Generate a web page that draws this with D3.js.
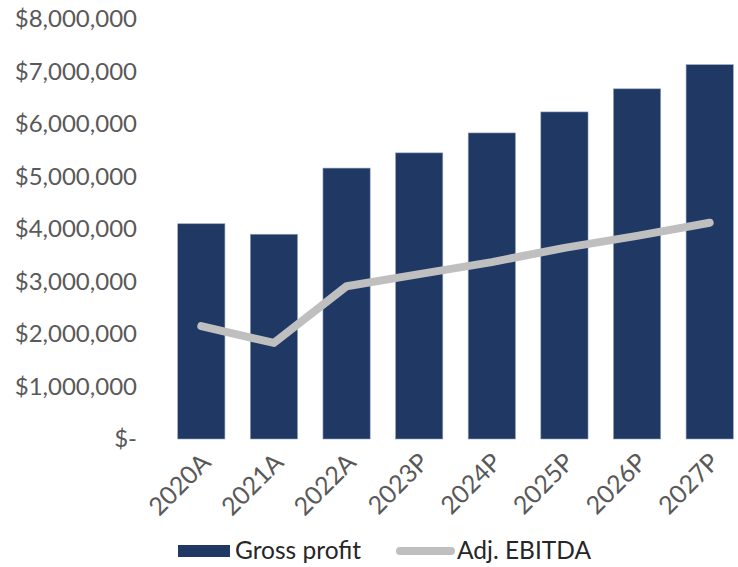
<!doctype html>
<html>
<head>
<meta charset="utf-8">
<script src="https://d3js.org/d3.v7.min.js"></script>
<style>
  body { margin: 0; background: #fff; }
  text { font-family: Lato, "Open Sans", sans-serif; }
</style>
</head>
<body>
<svg width="738" height="567"></svg>
<script>
// values
var years = ["2020A", "2021A", "2022A", "2023P", "2024P", "2025P", "2026P", "2027P"];
var grossProfit = [4100000, 3900000, 5160000, 5450000, 5830000, 6230000, 6670000, 7130000];
var adjEbitda = [2150000, 1830000, 2910000, 3140000, 3370000, 3640000, 3870000, 4120000];
var yTicks = [0, 1000000, 2000000, 3000000, 4000000, 5000000, 6000000, 7000000, 8000000];

var svg = d3.select("svg");

var x = d3.scaleBand()
    .domain(years)
    .range([165, 746])
    .paddingInner(0.35)
    .paddingOuter(0.175);

var y = d3.scaleLinear()
    .domain([0, 8000000])
    .range([439, 19]);

var fmt = d3.format(",");

// y axis labels, no line
var yAxis = svg.append("g")
    .attr("transform", "translate(137,0)")
    .call(d3.axisLeft(y).tickValues(yTicks).tickSize(0).tickPadding(0)
        .tickFormat(function(d) { return d === 0 ? "$-" : "$" + fmt(d); }));
yAxis.select(".domain").remove();
yAxis.selectAll("text")
    .attr("fill", "#595959")
    .style("font-size", "24px")
    .style("font-family", "Lato, sans-serif");

// bars
svg.append("g").selectAll("rect")
    .data(years)
  .enter().append("rect")
    .attr("x", function(d) { return x(d); })
    .attr("y", function(d, i) { return y(grossProfit[i]); })
    .attr("width", x.bandwidth())
    .attr("height", function(d, i) { return y(0) - y(grossProfit[i]); })
    .attr("fill", "#203864")
    .attr("stroke", "#8fa0bb")
    .attr("stroke-width", 0.6);

// ebitda line
var line = d3.line()
    .x(function(d, i) { return x(years[i]) + x.bandwidth() / 2; })
    .y(function(d) { return y(d); });

svg.append("path")
    .datum(adjEbitda)
    .attr("d", line)
    .attr("fill", "none")
    .attr("stroke", "#bfbfbf")
    .attr("stroke-width", 8)
    .attr("stroke-linecap", "round")
    .attr("stroke-linejoin", "round");

// x labels rotated
svg.append("g").selectAll("text")
    .data(years)
  .enter().append("text")
    .attr("transform", function(d) {
      var cx = x(d) + x.bandwidth() / 2 + 11;
      return "translate(" + cx + ",464) rotate(-45)";
    })
    .attr("text-anchor", "end")
    .attr("fill", "#595959")
    .style("font-size", "25px")
    .text(function(d) { return d; });

// legend
var legend = svg.append("g");
legend.append("rect")
    .attr("x", 178).attr("y", 545)
    .attr("width", 52).attr("height", 12)
    .attr("fill", "#203864");
legend.append("text")
    .attr("x", 235).attr("y", 559)
    .attr("fill", "#262626")
    .style("font-size", "24.5px")
    .text("Gross profit");
legend.append("line")
    .attr("x1", 400).attr("x2", 451)
    .attr("y1", 551).attr("y2", 551)
    .attr("stroke", "#bfbfbf")
    .attr("stroke-width", 8)
    .attr("stroke-linecap", "round");
legend.append("text")
    .attr("x", 457).attr("y", 559)
    .attr("fill", "#262626")
    .style("font-size", "24.5px")
    .text("Adj. EBITDA");
</script>
</body>
</html>
